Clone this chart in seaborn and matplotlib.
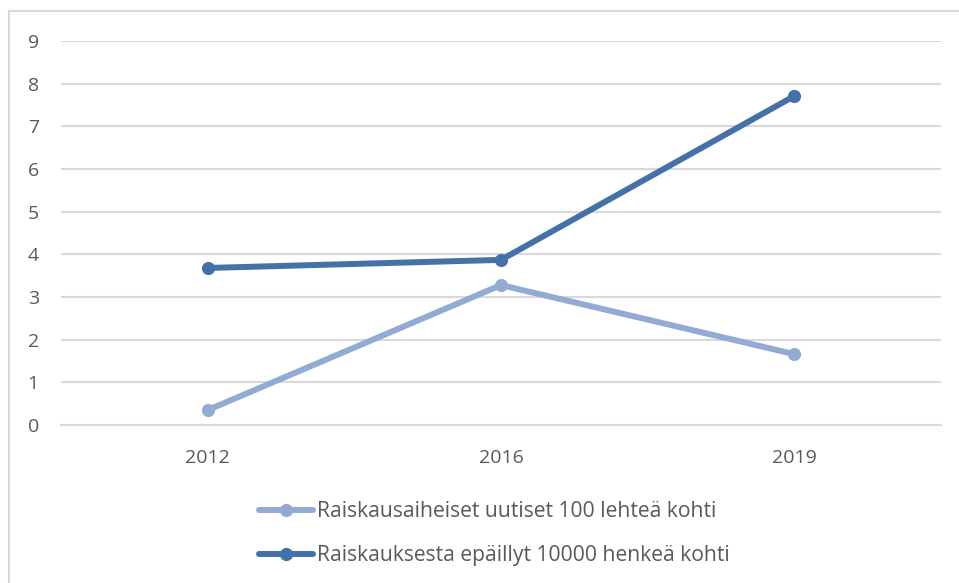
import matplotlib
matplotlib.use('Agg')
import matplotlib.pyplot as plt
from matplotlib.patches import Rectangle
import seaborn as sns
import pandas as pd

years = ['2012', '2016', '2019']
news_per_100 = [0.35, 3.28, 1.66]
suspects_per_10000 = [3.68, 3.87, 7.71]
series_names = ['Raiskausaiheiset uutiset 100 lehteä kohti',
                'Raiskauksesta epäillyt 10000 henkeä kohti']
y_ticks = list(range(0, 10))

df = pd.DataFrame({
    'year': years * 2,
    'value': news_per_100 + suspects_per_10000,
    'series': [series_names[0]] * 3 + [series_names[1]] * 3,
})

sns.set_style('white')
plt.rcParams['font.family'] = ['Open Sans', 'DejaVu Sans']

text_col = '#595959'
grid_col = '#D9D9D9'
palette = {series_names[0]: '#91ABD4', series_names[1]: '#4472A8'}
fs = 14
legend_fs = 15.2

fig = plt.figure(figsize=(9.59, 5.83), dpi=100)
ax = fig.add_axes([61 / 959, 1 - 425 / 583, 880 / 959, 384 / 583])

# chart border (right and bottom edges fall outside the image)
fig.patches.append(Rectangle((9 / 959, -0.1), 1.2, 1 - 11 / 583 + 0.1,
                             transform=fig.transFigure, fill=False,
                             edgecolor=grid_col, linewidth=1.5))

sns.lineplot(data=df, x='year', y='value', hue='series', palette=palette,
             marker='o', markersize=9.5, markeredgewidth=0, linewidth=4.3,
             sort=False, ax=ax, legend=False)

ax.set_xlim(-0.5, 2.5)
ax.set_ylim(0, 9)
ax.set_yticks(y_ticks)
ax.set_xticks(range(len(years)))
ax.set_xticklabels(years)
ax.yaxis.grid(True, color=grid_col, linewidth=1.5)
ax.set_axisbelow(True)
for side in ['top', 'right', 'left']:
    ax.spines[side].set_visible(False)
ax.spines['bottom'].set_color(grid_col)
ax.spines['bottom'].set_linewidth(1.5)
ax.tick_params(axis='y', length=0, pad=16, labelsize=fs, labelcolor=text_col)
ax.tick_params(axis='x', length=0, pad=17, labelsize=fs, labelcolor=text_col)
ax.set_xlabel('')
ax.set_ylabel('')

handles = [plt.Line2D([], [], color=palette[n], linewidth=4.3, marker='o',
                      markersize=9.5, markeredgewidth=0) for n in series_names]
fig.legend(handles, series_names, loc='upper left',
           bbox_to_anchor=(240 / 959, 1 - 482 / 583), frameon=False,
           fontsize=legend_fs, labelcolor=text_col, handlelength=2.55,
           handletextpad=0.2, labelspacing=1.1)

fig.savefig('out.png', dpi=100)
